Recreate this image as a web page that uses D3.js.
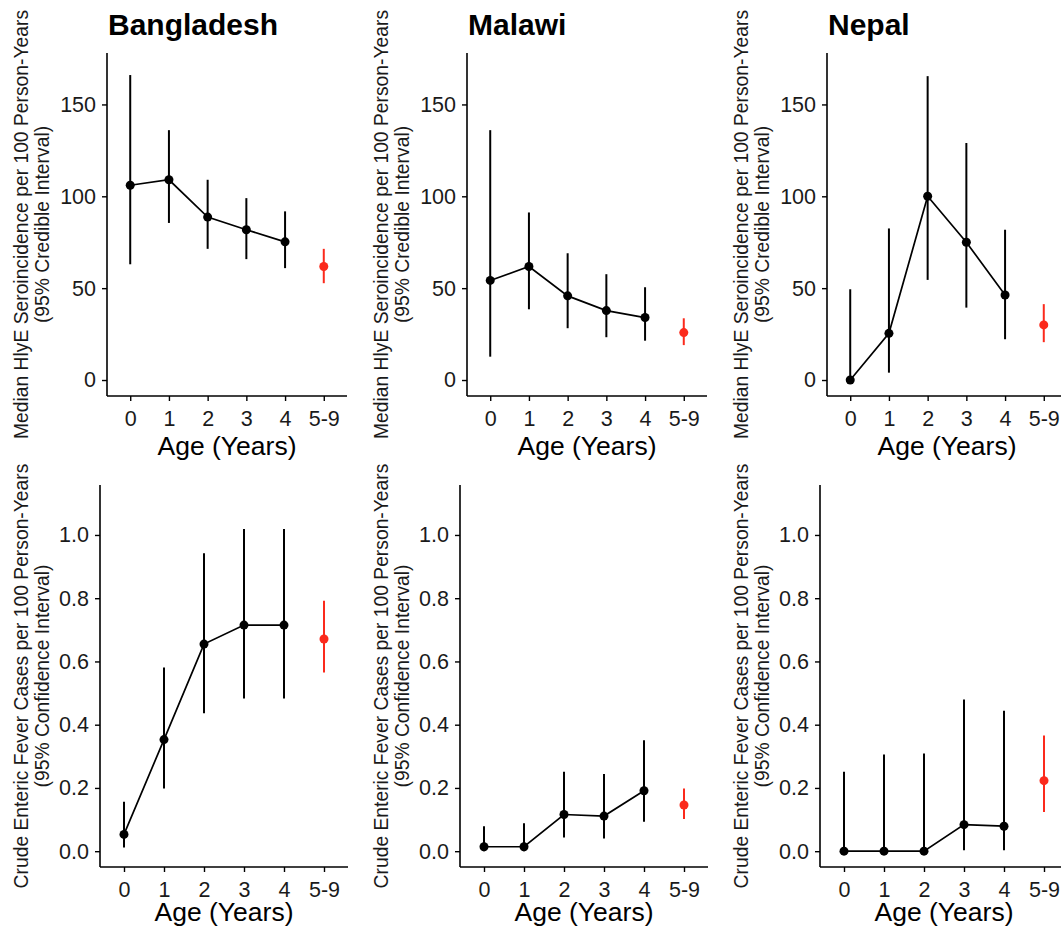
<!DOCTYPE html>
<html>
<head>
<meta charset="utf-8">
<script src="https://cdn.jsdelivr.net/npm/d3@7"></script>
<style>
  body { margin: 0; background: #fff; }
  svg { display: block; font-family: "Liberation Sans", Arial, Helvetica, sans-serif; }
</style>
</head>
<body>
<svg id="chart" width="1061" height="932"></svg>
<script>
// age groups on the x axis (last one drawn in red, not joined)
var ages = ["0", "1", "2", "3", "4", "5-9"]
var countries = ["Bangladesh", "Malawi", "Nepal"]

// HlyE seroincidence per 100 person-years, median + 95% CrI
var seroMedBangladesh = [106, 109, 88.7, 81.8, 75.2, 61.8]
var seroLoBangladesh  = [63, 85.5, 71.4, 65.8, 60.9, 52.7]
var seroHiBangladesh  = [166, 136, 109, 99, 91.8, 71.4]

var seroMedMalawi = [54.2, 61.8, 45.8, 37.8, 34, 25.8]
var seroLoMalawi  = [12.7, 38.5, 28.2, 23.3, 21.4, 19]
var seroHiMalawi  = [136, 91.2, 69, 57.6, 50.5, 33.6]

var seroMedNepal = [0, 25.4, 100, 75, 46.3, 30]
var seroLoNepal  = [0, 4, 54.5, 39.4, 22.2, 20.6]
var seroHiNepal  = [49.4, 82.5, 165.4, 129, 81.8, 41.3]

// crude enteric fever cases per 100 person-years, 95% CI
var crudeBangladesh   = [0.053, 0.353, 0.655, 0.715, 0.715, 0.671]
var crudeLoBangladesh = [0.012, 0.198, 0.436, 0.483, 0.483, 0.565]
var crudeHiBangladesh = [0.156, 0.581, 0.942, 1.019, 1.019, 0.792]

var crudeMalawi   = [0.014, 0.014, 0.116, 0.111, 0.191, 0.146]
var crudeLoMalawi = [0, 0, 0.043, 0.040, 0.093, 0.102]
var crudeHiMalawi = [0.079, 0.088, 0.251, 0.244, 0.351, 0.198]

var crudeNepal   = [0, 0, 0, 0.084, 0.079, 0.223]
var crudeLoNepal = [0, 0, 0, 0.003, 0.003, 0.124]
var crudeHiNepal = [0.251, 0.306, 0.309, 0.48, 0.444, 0.366]

var seroTicks = [0, 50, 100, 150]
var crudeTicks = [0, 0.2, 0.4, 0.6, 0.8, 1.0]

var seroTitle = ["Median HlyE Seroincidence per 100 Person-Years", "(95% Credible Interval)"]
var crudeTitle = ["Crude Enteric Fever Cases per 100 Person-Years", "(95% Confidence Interval)"]
var xTitle = "Age (Years)"

var seroData = {
  Bangladesh: [seroMedBangladesh, seroLoBangladesh, seroHiBangladesh],
  Malawi: [seroMedMalawi, seroLoMalawi, seroHiMalawi],
  Nepal: [seroMedNepal, seroLoNepal, seroHiNepal]
}
var crudeData = {
  Bangladesh: [crudeBangladesh, crudeLoBangladesh, crudeHiBangladesh],
  Malawi: [crudeMalawi, crudeLoMalawi, crudeHiMalawi],
  Nepal: [crudeNepal, crudeLoNepal, crudeHiNepal]
}

var svg = d3.select("#chart")
var colW = 360
var RED = "#fb2a1c"

// row layouts (left/right/top/bottom of plot area, relative to column)
var rows = [
  {data: seroData, ticks: seroTicks, fmt: d3.format("d"), title: seroTitle,
   left: 107, right: 347, top: 53, bottom: 396, domain: [-8.7, 178], xTitleY: 455, showCountry: true},
  {data: crudeData, ticks: crudeTicks, fmt: d3.format(".1f"), title: crudeTitle,
   left: 100, right: 348, top: 485, bottom: 867, domain: [-0.05, 1.158], xTitleY: 921, showCountry: false}
]

rows.forEach(function(row) {
  countries.forEach(function(country, ci) {
    var g = svg.append("g").attr("transform", "translate(" + (ci * colW) + ",0)")

    var x = d3.scalePoint().domain(ages).range([row.left, row.right]).padding(0.6)
    var y = d3.scaleLinear().domain(row.domain).range([row.bottom, row.top])

    var vals = row.data[country]
    var pts = ages.map(function(a, i) {
      return {age: a, v: vals[0][i], lo: vals[1][i], hi: vals[2][i], last: i == ages.length - 1}
    })

    // country title
    if (row.showCountry) {
      g.append("text")
        .attr("x", row.left + 1)
        .attr("y", 35)
        .style("font-size", "30px")
        .style("font-weight", "bold")
        .attr("fill", "#000")
        .text(country)
    }

    // axes
    var yAxis = g.append("g")
      .attr("transform", "translate(" + row.left + ",0)")
      .call(d3.axisLeft(y).tickValues(row.ticks).tickFormat(row.fmt).tickSize(5).tickPadding(6))
    var xAxis = g.append("g")
      .attr("transform", "translate(0," + row.bottom + ")")
      .call(d3.axisBottom(x).tickSize(5).tickPadding(10))

    ;[xAxis, yAxis].forEach(function(ax) {
      ax.select(".domain").attr("stroke", "#000").attr("stroke-width", 1.6)
        .attr("d", ax === xAxis ? "M" + row.left + ",0H" + row.right : "M0," + row.top + "V" + row.bottom)
      ax.selectAll(".tick line").attr("stroke", "#000").attr("stroke-width", 1.4)
      ax.selectAll(".tick text").attr("fill", "#1a1a1a").style("font-size", "21.5px").attr("font-family", null)
    })

    // x axis title
    g.append("text")
      .attr("x", (row.left + row.right) / 2)
      .attr("y", row.xTitleY)
      .attr("text-anchor", "middle")
      .style("font-size", "26.5px")
      .attr("fill", "#000")
      .text(xTitle)

    // y axis title, two lines
    var cy = (row.top + row.bottom) / 2
    row.title.forEach(function(t, li) {
      g.append("text")
        .attr("transform", "translate(" + (li == 0 ? 28 : 49) + "," + cy + ") rotate(-90)")
        .attr("text-anchor", "middle")
        .style("font-size", "19.3px")
        .attr("fill", "#1a1a1a")
        .text(t)
    })

    // error bars
    g.selectAll(".err").data(pts).enter().append("line")
      .attr("class", "err")
      .attr("x1", function(d) { return x(d.age) })
      .attr("x2", function(d) { return x(d.age) })
      .attr("y1", function(d) { return y(d.lo) })
      .attr("y2", function(d) { return y(d.hi) })
      .attr("stroke", function(d) { return d.last ? RED : "#000" })
      .attr("stroke-width", 2)

    // connecting line, ages 0-4 only
    var line = d3.line().x(function(d) { return x(d.age) }).y(function(d) { return y(d.v) })
    g.append("path")
      .datum(pts.filter(function(d) { return !d.last }))
      .attr("d", line)
      .attr("fill", "none")
      .attr("stroke", "#000")
      .attr("stroke-width", 1.7)

    g.selectAll(".pt").data(pts).enter().append("circle")
      .attr("class", "pt")
      .attr("cx", function(d) { return x(d.age) })
      .attr("cy", function(d) { return y(d.v) })
      .attr("r", 4.5)
      .attr("fill", function(d) { return d.last ? RED : "#000" })
  })
})
</script>
</body>
</html>
